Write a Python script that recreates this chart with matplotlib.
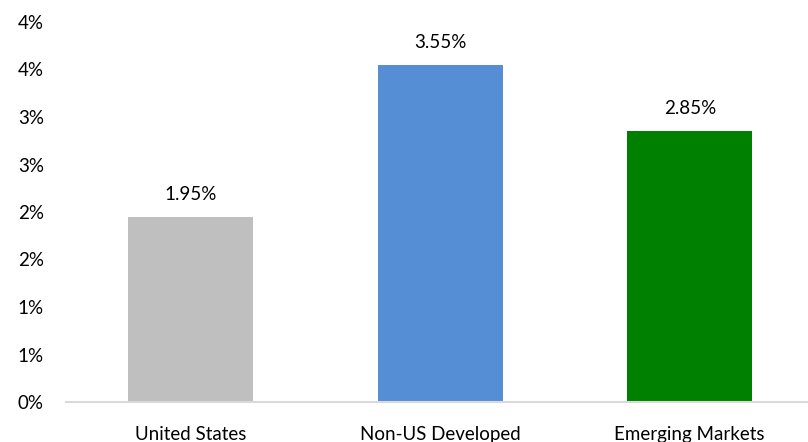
import matplotlib
matplotlib.use('Agg')
import matplotlib.pyplot as plt
from matplotlib.ticker import FuncFormatter

categories = ['United States', 'Non-US Developed', 'Emerging Markets']
values = [1.95, 3.55, 2.85]
colors = ['#bfbfbf', '#558ed5', '#008000']

plt.rcParams['font.family'] = ['Lato', 'DejaVu Sans']

fig = plt.figure(figsize=(8.08, 4.42), dpi=100)
ax = fig.add_axes([66 / 808, 40 / 442, 748.5 / 808, 380 / 442])

x = range(len(categories))
bars = ax.bar(x, values, width=0.5, color=colors)
for b, v in zip(bars, values):
    ax.annotate(f'{v:.2f}%', (b.get_x() + b.get_width() / 2, v),
                xytext=(0, 10), textcoords='offset points',
                ha='center', va='bottom', fontsize=13.5, color='#000000')

ax.set_xlim(-0.5, 2.5)
ax.set_ylim(0, 4)
ax.set_yticks([i * 0.5 for i in range(9)])
# excel style rounding: 0.5 -> 1%
ax.yaxis.set_major_formatter(FuncFormatter(lambda v, p: f'{int(v + 0.5)}%'))
ax.set_xticks(list(x))
ax.set_xticklabels(categories)
ax.tick_params(axis='both', length=0, labelsize=13.5, colors='#000000')
ax.tick_params(axis='y', pad=16)
ax.tick_params(axis='x', pad=17)

for s in ['top', 'right', 'left']:
    ax.spines[s].set_visible(False)
ax.spines['bottom'].set_color('#d9d9d9')
ax.spines['bottom'].set_linewidth(1.5)

fig.savefig('out.png', dpi=100)
